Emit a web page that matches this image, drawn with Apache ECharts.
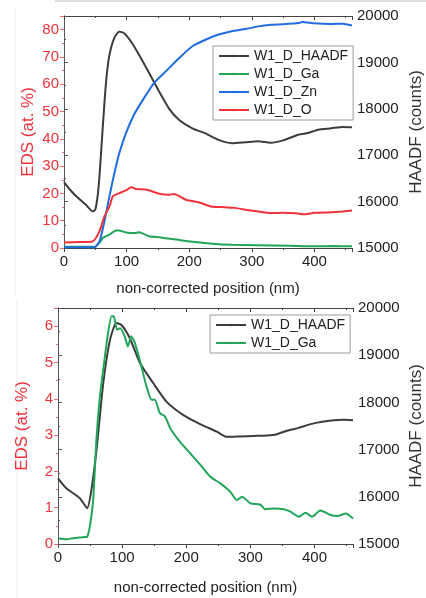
<!DOCTYPE html>
<html>
<head>
    <meta charset="utf-8">
    <title>EDS / HAADF profile</title>
    <script src="https://cdn.jsdelivr.net/npm/echarts@6/dist/echarts.min.js"></script>
</head>
<body>
<div id="main"></div>
<style type="text/css">
    html, body { height: 100%; margin: 0px; padding: 0px; background: #fff; }
    #main { width: 426px; height: 598px; }
</style>

<script type="text/javascript">
    // ---- top panel: HAADF (right axis) + Ga, Zn, O (left axis) ----
    var posHaadfTop = [0, 10, 20, 35, 46, 50, 54, 57, 62, 67, 72, 80, 88, 96, 107, 120, 136, 152, 168, 184, 205, 226, 247, 268, 290, 310, 330, 350, 374, 390, 406, 427, 445, 460];
    var haadfTop = [16420, 16250, 16110, 15930, 15790, 15830, 16150, 16610, 17620, 18550, 19120, 19520, 19660, 19630, 19450, 19160, 18770, 18370, 18000, 17760, 17580, 17470, 17330, 17260, 17280, 17300, 17270, 17320, 17440, 17480, 17550, 17580, 17610, 17600];

    var posGaTop = [0, 25, 50, 55, 60, 62, 72.5, 83, 88, 99, 115, 120, 136, 152, 173, 205, 237, 268, 310, 360, 400, 430, 460];
    var gaTop = [0.5, 0.5, 0.5, 1.5, 3.0, 3.7, 4.9, 6.4, 6.4, 5.7, 5.5, 5.8, 4.3, 3.9, 3.3, 2.3, 1.6, 1.2, 1.0, 0.8, 0.6, 0.7, 0.6];

    var posZnTop = [0, 25, 48.7, 56.7, 64.6, 72.5, 80.5, 88.4, 99, 112, 128, 144, 162.5, 184, 205, 226, 247, 268, 289.5, 310, 330, 350, 375, 380, 400, 427, 445, 460];
    var znTop = [0.3, 0.3, 0.3, 2.4, 9.8, 18.9, 27.5, 34.8, 42.1, 48.9, 55.0, 60.5, 64.7, 69.6, 73.9, 76.3, 78.2, 79.4, 80.2, 81.2, 81.8, 82.0, 82.4, 82.8, 82.3, 82.1, 82.2, 81.5];

    var posOTop = [0, 25, 45.6, 56.7, 64.6, 72.5, 78, 88.4, 99, 107, 115, 131, 152, 168, 176, 194.6, 216, 235, 252, 273, 294.7, 310, 330, 350, 370, 385, 400, 427, 445, 460];
    var oTop = [2.0, 2.2, 2.4, 6.1, 11.6, 15.2, 18.9, 20.1, 21.1, 22.3, 21.6, 21.4, 19.9, 19.5, 19.8, 17.7, 16.7, 15.2, 15.0, 14.7, 13.8, 13.4, 12.8, 12.9, 12.7, 12.4, 12.9, 13.1, 13.4, 13.7];

    // ---- bottom panel: HAADF (right axis) + Ga (left axis) ----
    var posHaadfBot = [0, 13, 34, 45.5, 52, 60, 70.5, 81, 91, 99, 112, 128, 149, 169.5, 195.5, 221.6, 247.6, 263, 284, 305, 326, 340, 357, 375, 394, 412, 430, 445, 460];
    var haadfBot = [16390, 16180, 15970, 15760, 16140, 16990, 18400, 19320, 19680, 19640, 19360, 18830, 18400, 18010, 17730, 17540, 17380, 17270, 17280, 17290, 17300, 17320, 17400, 17460, 17540, 17590, 17620, 17630, 17620];

    var posGaBot = [0, 13, 23.5, 42, 45.5, 49.6, 54.8, 60, 65, 70.5, 78, 83.5, 87, 92, 97, 104, 109, 114, 119, 128, 138, 146, 151, 159, 167, 175, 190, 206, 222, 237, 253, 268.6, 279, 287, 300, 315.6, 323, 336.5, 352, 362.5, 375.5, 386, 396, 409, 425, 435.5, 448.6, 460];
    var gaBot = [0.16, 0.13, 0.16, 0.19, 0.2, 0.48, 1.2, 2.9, 4.0, 4.8, 5.8, 6.27, 6.27, 5.9, 5.94, 5.72, 5.44, 5.72, 5.58, 5.03, 4.34, 3.97, 3.97, 3.6, 3.51, 3.19, 2.82, 2.5, 2.18, 1.86, 1.67, 1.44, 1.21, 1.3, 1.12, 1.08, 0.96, 0.98, 0.96, 0.89, 0.75, 0.86, 0.75, 0.92, 0.8, 0.77, 0.84, 0.7];

    function zip(xs, ys) {
        var res = [];
        for (var i = 0; i < xs.length; i++) {
            res.push([xs[i], ys[i]]);
        }
        return res;
    }

    var FONT = 'Arial, "Liberation Sans", sans-serif';
    var RED = '#f0323a';
    var DARK = '#3c3c3c';
    var GREEN = '#21a55a';
    var BLUE = '#1f6de0';

    function xBottom(grid, gap) {
        return {
            type: 'value', gridIndex: grid, min: 0, max: 460, interval: 100,
            name: 'non-corrected position (nm)', nameLocation: 'middle', nameGap: gap,
            nameMoveOverlap: false,
            nameTextStyle: {color: '#222', fontSize: 15, fontFamily: FONT},
            axisLine: {lineStyle: {color: '#444', width: 1}},
            axisTick: {inside: false, length: 4, lineStyle: {color: '#444'}},
            minorTick: {show: true, splitNumber: 2, length: 2, lineStyle: {color: '#444'}},
            axisLabel: {color: '#222', fontSize: 15, fontFamily: FONT, margin: 6, showMaxLabel: false},
            splitLine: {show: false}
        };
    }

    function xTop(grid) {
        return {
            type: 'value', gridIndex: grid, position: 'top', min: 0, max: 460, interval: 100,
            axisLine: {lineStyle: {color: '#444', width: 1}},
            axisTick: {inside: true, length: 4, lineStyle: {color: '#444'}},
            minorTick: {show: true, splitNumber: 2, length: 2, lineStyle: {color: '#444'}},
            axisLabel: {show: false},
            splitLine: {show: false}
        };
    }

    function yLeft(grid, max, interval, gap) {
        return {
            type: 'value', gridIndex: grid, position: 'left', min: 0, max: max, interval: interval,
            name: 'EDS (at. %)', nameLocation: 'middle', nameGap: gap,
            nameMoveOverlap: false,
            nameTextStyle: {color: RED, fontSize: 17, fontFamily: FONT},
            axisLine: {show: true, lineStyle: {color: '#f26a6a', width: 1}},
            axisTick: {length: 4, lineStyle: {color: '#f26a6a'}},
            minorTick: {show: true, splitNumber: 2, length: 2, lineStyle: {color: '#f26a6a'}},
            axisLabel: {color: RED, fontSize: 15, fontFamily: FONT, margin: 5, showMaxLabel: false},
            splitLine: {show: false}
        };
    }

    function yRight(grid, gap) {
        return {
            type: 'value', gridIndex: grid, position: 'right', min: 15000, max: 20000, interval: 1000,
            name: 'HAADF (counts)', nameLocation: 'middle', nameGap: gap,
            nameMoveOverlap: false,
            nameTextStyle: {color: '#333', fontSize: 17, fontFamily: FONT},
            axisLine: {show: true, lineStyle: {color: '#555', width: 1}},
            axisTick: {length: 4, lineStyle: {color: '#555'}},
            minorTick: {show: true, splitNumber: 2, length: 2, lineStyle: {color: '#555'}},
            axisLabel: {
                color: '#222', fontSize: 15, fontFamily: FONT, margin: 5,
                formatter: function (v) { return String(v); }
            },
            splitLine: {show: false}
        };
    }

    function line(name, color, xi, yi, data) {
        return {
            name: name, type: 'line', xAxisIndex: xi, yAxisIndex: yi,
            data: data, symbol: 'none', smooth: 0.2,
            lineStyle: {color: color, width: 2},
            itemStyle: {color: color}
        };
    }

    var myChart = echarts.init(document.getElementById('main'), null, {renderer: 'canvas'});

    var option = {
        backgroundColor: '#ffffff',
        animation: false,
        grid: [
            {left: 64, right: 74, top: 16, height: 232, containLabel: false, outerBoundsMode: 'none'},
            {left: 58, right: 73, top: 308, height: 236, containLabel: false, outerBoundsMode: 'none'}
        ],
        xAxis: [xBottom(0, 33), xTop(0), xBottom(1, 36), xTop(1)],
        yAxis: [yLeft(0, 85, 10, 27), yRight(0, 56), yLeft(1, 6.5, 1, 27), yRight(1, 55)],
        legend: [
            {
                data: ['W1_D_HAADF', 'W1_D_Ga', 'W1_D_Zn', 'W1_D_O'],
                orient: 'vertical', left: 213, top: 46,
                itemWidth: 30, itemHeight: 3, itemGap: 4, padding: [3, 5],
                borderColor: '#9a9a9a', borderWidth: 1, borderRadius: 0,
                backgroundColor: '#fff',
                textStyle: {fontSize: 14, color: '#222', fontFamily: FONT}
            },
            {
                data: ['W1_D_HAADF', 'W1_D_Ga'],
                orient: 'vertical', left: 210, top: 315,
                itemWidth: 30, itemHeight: 3, itemGap: 4, padding: [3, 5],
                borderColor: '#9a9a9a', borderWidth: 1, borderRadius: 0,
                backgroundColor: '#fff',
                textStyle: {fontSize: 14, color: '#222', fontFamily: FONT}
            }
        ],
        graphic: [
            {type: 'line', shape: {x1: 55, y1: 1, x2: 426, y2: 1}, style: {stroke: '#dcdcdc', lineWidth: 2}},
            {type: 'line', shape: {x1: 15, y1: 8, x2: 15, y2: 296}, style: {stroke: '#ececec', lineWidth: 1}},
            {type: 'line', shape: {x1: 17, y1: 300, x2: 17, y2: 598}, style: {stroke: '#ececec', lineWidth: 1}}
        ],
        series: [
            line('W1_D_HAADF', DARK, 0, 1, zip(posHaadfTop, haadfTop)),
            line('W1_D_Ga', GREEN, 0, 0, zip(posGaTop, gaTop)),
            line('W1_D_Zn', BLUE, 0, 0, zip(posZnTop, znTop)),
            line('W1_D_O', RED, 0, 0, zip(posOTop, oTop)),
            line('W1_D_HAADF', DARK, 2, 3, zip(posHaadfBot, haadfBot)),
            line('W1_D_Ga', GREEN, 2, 2, zip(posGaBot, gaBot))
        ]
    };

    myChart.setOption(option);
</script>
</body>
</html>
